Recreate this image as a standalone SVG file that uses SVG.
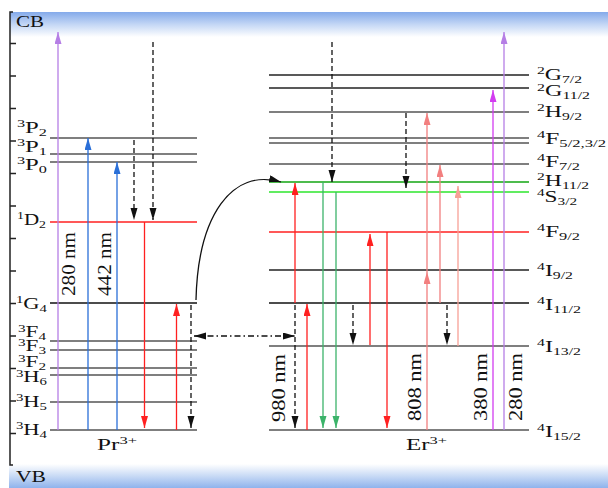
<svg xmlns="http://www.w3.org/2000/svg" width="608" height="488" viewBox="0 0 608 488">
<style>
.t{font-family:"Liberation Serif","DejaVu Serif",serif;font-size:16px;fill:#111}
.s{font-size:10.5px}
.r{font-family:"Liberation Serif","DejaVu Serif",serif;font-size:19px;fill:#111}
.lv{stroke-width:1.3;fill:none}
.g{stroke:#555}
.k{stroke:#222}
.a{stroke-width:1.3;fill:none}
.d{stroke:#111;stroke-dasharray:5 3}
</style>
<defs>
<linearGradient id="cb" x1="0" y1="0" x2="0" y2="1"><stop offset="0" stop-color="#84aaea"/><stop offset="0.5" stop-color="#c4d7f5"/><stop offset="1" stop-color="#ffffff"/></linearGradient>
<linearGradient id="vb" x1="0" y1="0" x2="0" y2="1"><stop offset="0" stop-color="#ffffff"/><stop offset="0.5" stop-color="#c8daf5"/><stop offset="1" stop-color="#8fb3ec"/></linearGradient>
<marker id="mk" markerUnits="userSpaceOnUse" markerWidth="13" markerHeight="8" refX="12" refY="3.5" orient="auto-start-reverse"><path d="M0,0 L12,3.5 L0,7 z" fill="#111"/></marker>
<marker id="mr" markerUnits="userSpaceOnUse" markerWidth="13" markerHeight="8" refX="12" refY="3.5" orient="auto"><path d="M0,0 L12,3.5 L0,7 z" fill="#ff2020"/></marker>
<marker id="mp" markerUnits="userSpaceOnUse" markerWidth="13" markerHeight="8" refX="12" refY="3.5" orient="auto"><path d="M0,0 L12,3.5 L0,7 z" fill="#b57ee5"/></marker>
<marker id="mb" markerUnits="userSpaceOnUse" markerWidth="13" markerHeight="8" refX="12" refY="3.5" orient="auto"><path d="M0,0 L12,3.5 L0,7 z" fill="#2a6fd8"/></marker>
<marker id="mg" markerUnits="userSpaceOnUse" markerWidth="13" markerHeight="8" refX="12" refY="3.5" orient="auto"><path d="M0,0 L12,3.5 L0,7 z" fill="#3cb36a"/></marker>
<marker id="ms" markerUnits="userSpaceOnUse" markerWidth="13" markerHeight="8" refX="12" refY="3.5" orient="auto"><path d="M0,0 L12,3.5 L0,7 z" fill="#f27f7f"/></marker>
<marker id="ml" markerUnits="userSpaceOnUse" markerWidth="13" markerHeight="8" refX="12" refY="3.5" orient="auto"><path d="M0,0 L12,3.5 L0,7 z" fill="#f7a096"/></marker>
<marker id="mm" markerUnits="userSpaceOnUse" markerWidth="13" markerHeight="8" refX="12" refY="3.5" orient="auto"><path d="M0,0 L12,3.5 L0,7 z" fill="#d23cf0"/></marker>
</defs>
<rect width="608" height="488" fill="#fff"/>
<g id="bands">
<rect x="10" y="12" width="598" height="25" fill="url(#cb)"/>
<rect x="9" y="464" width="599" height="24" fill="url(#vb)"/>
<text class="t" x="16" y="27" textLength="28" lengthAdjust="spacingAndGlyphs">CB</text>
<text class="t" x="16" y="482" textLength="30" lengthAdjust="spacingAndGlyphs">VB</text>
</g>
<g id="axis" stroke="#222" stroke-width="1.5" fill="none">
<path d="M13,12 H10 V465 H13"/>
<path d="M10,43.5h6 M10,76h6 M10,108.5h6 M10,141h6 M10,173.5h6 M10,206h6 M10,238.5h6 M10,271h6 M10,303.5h6 M10,336h6 M10,368.5h6 M10,401h6 M10,433.5h6"/>
</g>
<!-- Pr levels -->
<g id="Pr-3P2"><line class="lv g" x1="50" y1="138" x2="197" y2="138"/><text class="t" x="17" y="133" textLength="30" lengthAdjust="spacingAndGlyphs"><tspan class="s" dy="-6">3</tspan><tspan dy="6">P</tspan><tspan class="s" dy="3">2</tspan></text></g>
<g id="Pr-3P1"><line class="lv g" x1="50" y1="154" x2="197" y2="154"/><text class="t" x="17" y="152" textLength="30" lengthAdjust="spacingAndGlyphs"><tspan class="s" dy="-6">3</tspan><tspan dy="6">P</tspan><tspan class="s" dy="3">1</tspan></text></g>
<g id="Pr-3P0"><line class="lv g" x1="50" y1="162" x2="197" y2="162"/><text class="t" x="17" y="170" textLength="30" lengthAdjust="spacingAndGlyphs"><tspan class="s" dy="-6">3</tspan><tspan dy="6">P</tspan><tspan class="s" dy="3">0</tspan></text></g>
<g id="Pr-1D2"><line class="lv" stroke="#ff2020" x1="50" y1="222" x2="197" y2="222"/><text class="t" x="17" y="225" textLength="29" lengthAdjust="spacingAndGlyphs"><tspan class="s" dy="-6">1</tspan><tspan dy="6">D</tspan><tspan class="s" dy="3">2</tspan></text></g>
<g id="Pr-1G4"><line class="lv" stroke="#111" x1="50" y1="303" x2="197" y2="303"/><text class="t" x="16" y="309" textLength="31" lengthAdjust="spacingAndGlyphs"><tspan class="s" dy="-6">1</tspan><tspan dy="6">G</tspan><tspan class="s" dy="3">4</tspan></text></g>
<g id="Pr-3F4"><line class="lv g" x1="50" y1="341" x2="197" y2="341"/><text class="t" x="18" y="337" textLength="28" lengthAdjust="spacingAndGlyphs"><tspan class="s" dy="-5">3</tspan><tspan dy="5">F</tspan><tspan class="s" dy="2.5">4</tspan></text></g>
<g id="Pr-3F3"><line class="lv g" x1="50" y1="350" x2="197" y2="350"/><text class="t" x="18" y="351" textLength="28" lengthAdjust="spacingAndGlyphs"><tspan class="s" dy="-5">3</tspan><tspan dy="5">F</tspan><tspan class="s" dy="2.5">3</tspan></text></g>
<g id="Pr-3F2"><line class="lv g" x1="50" y1="368" x2="197" y2="368"/><text class="t" x="18" y="367" textLength="28" lengthAdjust="spacingAndGlyphs"><tspan class="s" dy="-5">3</tspan><tspan dy="5">F</tspan><tspan class="s" dy="2.5">2</tspan></text></g>
<g id="Pr-3H6"><line class="lv g" x1="50" y1="375" x2="197" y2="375"/><text class="t" x="16" y="382" textLength="31" lengthAdjust="spacingAndGlyphs"><tspan class="s" dy="-5">3</tspan><tspan dy="5">H</tspan><tspan class="s" dy="2.5">6</tspan></text></g>
<g id="Pr-3H5"><line class="lv g" x1="50" y1="402" x2="197" y2="402"/><text class="t" x="16" y="407" textLength="31" lengthAdjust="spacingAndGlyphs"><tspan class="s" dy="-6">3</tspan><tspan dy="6">H</tspan><tspan class="s" dy="3">5</tspan></text></g>
<g id="Pr-3H4"><line class="lv g" x1="50" y1="430" x2="197" y2="430"/><text class="t" x="16" y="435" textLength="31" lengthAdjust="spacingAndGlyphs"><tspan class="s" dy="-6">3</tspan><tspan dy="6">H</tspan><tspan class="s" dy="3">4</tspan></text></g>
<g id="Pr-ion"><text class="t" x="97" y="450" textLength="40" lengthAdjust="spacingAndGlyphs">Pr<tspan class="s" dy="-6">3+</tspan></text></g>
<!-- Er levels -->
<g id="Er-2G7"><line class="lv k" x1="269" y1="75" x2="529" y2="75"/><text class="t" x="537" y="80" textLength="45" lengthAdjust="spacingAndGlyphs"><tspan class="s" dy="-6">2</tspan><tspan dy="6">G</tspan><tspan class="s" dy="2.5">7/2</tspan></text></g>
<g id="Er-2G11"><line class="lv k" x1="269" y1="88" x2="529" y2="88"/><text class="t" x="537" y="96" textLength="53" lengthAdjust="spacingAndGlyphs"><tspan class="s" dy="-5">2</tspan><tspan dy="5">G</tspan><tspan class="s" dy="3">11/2</tspan></text></g>
<g id="Er-2H9"><line class="lv g" x1="269" y1="112" x2="529" y2="112"/><text class="t" x="537" y="117" textLength="45" lengthAdjust="spacingAndGlyphs"><tspan class="s" dy="-6">2</tspan><tspan dy="6">H</tspan><tspan class="s" dy="3">9/2</tspan></text></g>
<g id="Er-4F5"><line class="lv g" x1="269" y1="138" x2="529" y2="138"/><line class="lv g" x1="269" y1="143" x2="529" y2="143"/><text class="t" x="537" y="144" textLength="69" lengthAdjust="spacingAndGlyphs"><tspan class="s" dy="-6">4</tspan><tspan dy="6">F</tspan><tspan class="s" dy="3">5/2,3/2</tspan></text></g>
<g id="Er-4F7"><line class="lv g" x1="269" y1="164" x2="529" y2="164"/><text class="t" x="537" y="167" textLength="43" lengthAdjust="spacingAndGlyphs"><tspan class="s" dy="-6">4</tspan><tspan dy="6">F</tspan><tspan class="s" dy="3">7/2</tspan></text></g>
<g id="Er-2H11"><line class="lv" stroke="#12a612" x1="269" y1="182" x2="529" y2="182"/><text class="t" x="537" y="186" textLength="52" lengthAdjust="spacingAndGlyphs"><tspan class="s" dy="-6">2</tspan><tspan dy="6">H</tspan><tspan class="s" dy="3">11/2</tspan></text></g>
<g id="Er-4S3"><line class="lv" stroke="#2de62d" x1="269" y1="192" x2="529" y2="192"/><text class="t" x="537" y="202" textLength="40" lengthAdjust="spacingAndGlyphs"><tspan class="s" dy="-6">4</tspan><tspan dy="6">S</tspan><tspan class="s" dy="3">3/2</tspan></text></g>
<g id="Er-4F9"><line class="lv" stroke="#ff2020" x1="269" y1="232" x2="529" y2="232"/><text class="t" x="537" y="237" textLength="43" lengthAdjust="spacingAndGlyphs"><tspan class="s" dy="-6">4</tspan><tspan dy="6">F</tspan><tspan class="s" dy="3">9/2</tspan></text></g>
<g id="Er-4I9"><line class="lv k" x1="269" y1="270" x2="529" y2="270"/><text class="t" x="537" y="276" textLength="36" lengthAdjust="spacingAndGlyphs"><tspan class="s" dy="-6">4</tspan><tspan dy="6">I</tspan><tspan class="s" dy="3">9/2</tspan></text></g>
<g id="Er-4I11"><line class="lv" stroke="#111" x1="269" y1="303" x2="529" y2="303"/><text class="t" x="537" y="310" textLength="44" lengthAdjust="spacingAndGlyphs"><tspan class="s" dy="-6">4</tspan><tspan dy="6">I</tspan><tspan class="s" dy="3">11/2</tspan></text></g>
<g id="Er-4I13"><line class="lv g" x1="269" y1="346" x2="529" y2="346"/><text class="t" x="537" y="352" textLength="44" lengthAdjust="spacingAndGlyphs"><tspan class="s" dy="-6">4</tspan><tspan dy="6">I</tspan><tspan class="s" dy="3">13/2</tspan></text></g>
<g id="Er-4I15"><line class="lv g" x1="269" y1="430" x2="529" y2="430"/><text class="t" x="537" y="437" textLength="44" lengthAdjust="spacingAndGlyphs"><tspan class="s" dy="-6">4</tspan><tspan dy="6">I</tspan><tspan class="s" dy="3">15/2</tspan></text></g>
<g id="Er-ion"><text class="t" x="406" y="450" textLength="41" lengthAdjust="spacingAndGlyphs">Er<tspan class="s" dy="-6">3+</tspan></text></g>
<!-- wavelength labels -->
<g id="wavelengths">
<text class="r" transform="translate(75,296) rotate(-90)" textLength="64" lengthAdjust="spacingAndGlyphs">280 nm</text>
<text class="r" transform="translate(111,296) rotate(-90)" textLength="64" lengthAdjust="spacingAndGlyphs">442 nm</text>
<text class="r" transform="translate(285,422) rotate(-90)" textLength="68" lengthAdjust="spacingAndGlyphs">980 nm</text>
<text class="r" transform="translate(421,421) rotate(-90)" textLength="68" lengthAdjust="spacingAndGlyphs">808 nm</text>
<text class="r" transform="translate(487,421) rotate(-90)" textLength="68" lengthAdjust="spacingAndGlyphs">380 nm</text>
<text class="r" transform="translate(522,421) rotate(-90)" textLength="68" lengthAdjust="spacingAndGlyphs">280 nm</text>
</g>
<g id="connectors">
<!-- Pr -->
<line class="a" stroke="#b57ee5" x1="58" y1="430" x2="58" y2="32" marker-end="url(#mp)"/>
<line class="a" stroke="#2a6fd8" x1="88" y1="430" x2="88" y2="138" marker-end="url(#mb)"/>
<line class="a" stroke="#2a6fd8" x1="117" y1="430" x2="117" y2="162" marker-end="url(#mb)"/>
<line class="a d" x1="134" y1="140" x2="134" y2="220" marker-end="url(#mk)"/>
<line class="a d" x1="153" y1="42" x2="153" y2="220" marker-end="url(#mk)"/>
<line class="a" stroke="#ff2020" x1="144.5" y1="222" x2="144.5" y2="428" marker-end="url(#mr)"/>
<line class="a" stroke="#ff2020" x1="176.5" y1="430" x2="176.5" y2="304" marker-end="url(#mr)"/>
<line class="a d" x1="191" y1="305" x2="191" y2="428" marker-end="url(#mk)"/>
<!-- energy transfer -->
<path class="a" stroke="#111" d="M196,300 C198,215 232,168 281,182" marker-end="url(#mk)"/>
<line class="a" stroke="#111" stroke-dasharray="6 3 1.5 3" x1="194" y1="336" x2="295" y2="336" marker-start="url(#mk)" marker-end="url(#mk)"/>
<!-- Er -->
<line class="a d" x1="332" y1="42" x2="332" y2="182" marker-end="url(#mk)"/>
<line class="a" stroke="#ff2020" x1="295" y1="303" x2="295" y2="183" marker-end="url(#mr)"/>
<line class="a d" x1="295" y1="305" x2="295" y2="428" marker-end="url(#mk)"/>
<line class="a" stroke="#ff2020" x1="307" y1="430" x2="307" y2="304" marker-end="url(#mr)"/>
<line class="a" stroke="#3cb36a" x1="323" y1="182" x2="323" y2="428" marker-end="url(#mg)"/>
<line class="a" stroke="#3cb36a" x1="336" y1="192" x2="336" y2="428" marker-end="url(#mg)"/>
<line class="a d" x1="353" y1="305" x2="353" y2="345" marker-end="url(#mk)"/>
<line class="a" stroke="#ff2020" x1="370" y1="345" x2="370" y2="234" marker-end="url(#mr)"/>
<line class="a" stroke="#ff2020" x1="387" y1="232" x2="387" y2="428" marker-end="url(#mr)"/>
<line class="a d" x1="406" y1="113" x2="406" y2="188" marker-end="url(#mk)"/>
<line class="a" stroke="#f27f7f" x1="427" y1="430" x2="427" y2="272" marker-end="url(#ms)"/>
<line class="a" stroke="#f27f7f" x1="427" y1="272" x2="427" y2="113" marker-end="url(#ms)"/>
<line class="a" stroke="#f27f7f" x1="440" y1="303" x2="440" y2="165" marker-end="url(#ms)"/>
<line class="a d" x1="447" y1="305" x2="447" y2="345" marker-end="url(#mk)"/>
<line class="a" stroke="#f7a096" x1="458" y1="346" x2="458" y2="186" marker-end="url(#ml)"/>
<line class="a" stroke="#d23cf0" x1="493" y1="430" x2="493" y2="90" marker-end="url(#mm)"/>
<line class="a" stroke="#b57ee5" x1="504" y1="430" x2="504" y2="32" marker-end="url(#mp)"/>
</g>
</svg>
